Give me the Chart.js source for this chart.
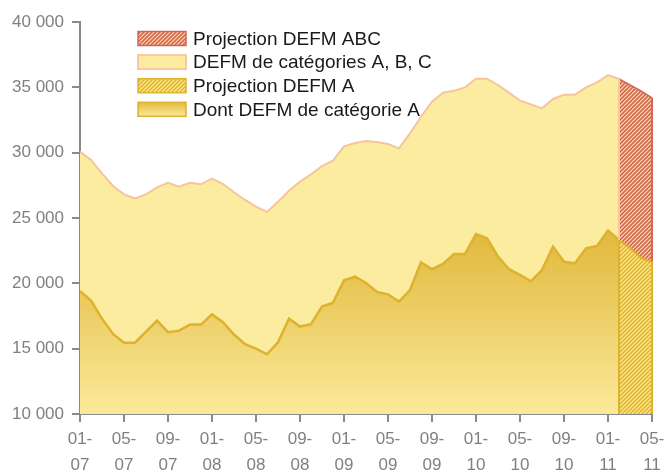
<!DOCTYPE html>
<html><head><meta charset="utf-8">
<script src="https://cdn.jsdelivr.net/npm/chart.js@4.4.1/dist/chart.umd.min.js"></script>
<style>html,body{margin:0;padding:0;background:#fff;} canvas{display:block;}</style>
</head><body>
<canvas id="c" width="664" height="473"></canvas>
<script>
const months = ["01-07","02-07","03-07","04-07","05-07","06-07","07-07","08-07","09-07","10-07","11-07","12-07",
"01-08","02-08","03-08","04-08","05-08","06-08","07-08","08-08","09-08","10-08","11-08","12-08",
"01-09","02-09","03-09","04-09","05-09","06-09","07-09","08-09","09-09","10-09","11-09","12-09",
"01-10","02-10","03-10","04-10","05-10","06-10","07-10","08-10","09-10","10-10","11-10","12-10",
"01-11","02-11","03-11","04-11","05-11"];

const defmABC = [30080,29440,28420,27450,26810,26500,26810,27350,27700,27400,27700,27580,
28010,27600,26970,26380,25870,25460,26250,27090,27780,28340,28980,29390,
30480,30740,30900,30820,30660,30330,31480,32750,33900,34590,34740,35000,
35660,35660,35180,34590,33980,33700,33390,34110,34440,34440,35000,35380,
35940,35640];

const defmA = [19420,18680,17300,16130,15460,15460,16310,17150,16260,16380,16840,16840,
17630,17020,16080,15340,15010,14570,15490,17300,16690,16870,18220,18520,
20230,20510,20030,19340,19160,18600,19490,21610,21080,21480,22250,22250,
23780,23450,22040,21080,20640,20160,21020,22810,21660,21530,22680,22860,
24030,23320];

const projMonths = ["02-11","03-11","04-11","05-11"];
const projABC = [35640,35180,34720,34200];
const projA = [23300,22700,21950,21650];

const legendLabels = ["Projection DEFM ABC","DEFM de catégories A, B, C","Projection DEFM A","Dont DEFM de catégorie A"];

const yMin = 10000, yMax = 40000, yStep = 5000;

const canvas = document.getElementById('c');
const mainCtx = canvas.getContext('2d');

function hatch(stripe, bg, w) {
  const t = document.createElement('canvas'); t.width = 4; t.height = 4;
  const g = t.getContext('2d');
  g.fillStyle = bg; g.fillRect(0,0,4,4);
  g.strokeStyle = stripe; g.lineWidth = w;
  g.beginPath();
  g.moveTo(-1,5); g.lineTo(5,-1);
  g.moveTo(-1,1); g.lineTo(1,-1);
  g.moveTo(3,5); g.lineTo(5,3);
  g.stroke();
  return mainCtx.createPattern(t,'repeat');
}
const redHatch = hatch('#d2645a', '#fbe59c', 1.6);
const goldHatch = hatch('#e0b635', '#fcee9f', 1.6);

const projStart = months.indexOf(projMonths[0]);
const pts = (arr, off) => arr.map((v,i)=>({x:i+off, y:v}));

function goldGradient(context) {
  const chart = context.chart; const ca = chart.chartArea;
  if (!ca) return '#e6c050';
  const g = chart.ctx.createLinearGradient(0, ca.top, 0, ca.bottom);
  g.addColorStop(0, '#d8a91c');
  g.addColorStop(0.5, '#dfb535');
  g.addColorStop(1, '#fbe99a');
  return g;
}

const edgePlugin = {
  id: 'edges',
  afterDatasetsDraw(chart) {
    const {ctx, scales:{x, y}, chartArea} = chart;
    const xl = x.getPixelForValue(projStart), xr = x.getPixelForValue(projStart + projA.length - 1);
    const last = projA.length - 1;
    ctx.save();
    ctx.lineWidth = 2;
    ctx.strokeStyle = '#f5c8a0';
    ctx.beginPath(); ctx.moveTo(xl, y.getPixelForValue(projABC[0])); ctx.lineTo(xl, y.getPixelForValue(projA[0])); ctx.stroke();
    ctx.strokeStyle = '#dcb22e';
    ctx.beginPath(); ctx.moveTo(xl, y.getPixelForValue(projA[0])); ctx.lineTo(xl, chartArea.bottom); ctx.stroke();
    ctx.strokeStyle = '#d5665c';
    ctx.beginPath(); ctx.moveTo(xr, y.getPixelForValue(projABC[last])); ctx.lineTo(xr, y.getPixelForValue(projA[last])); ctx.stroke();
    ctx.strokeStyle = '#dcb22e';
    ctx.beginPath(); ctx.moveTo(xr, y.getPixelForValue(projA[last])); ctx.lineTo(xr, chartArea.bottom); ctx.stroke();
    ctx.restore();
  }
};

const legendPlugin = {
  id: 'customLegend',
  afterDraw(chart) {
    const ctx = chart.ctx;
    const bx = 138, bw = 48, bh = 14, y0 = 38.5, dy = 23.6, tx = 193;
    const fills = [
      {fill: redHatch, stroke: '#d2645a'},
      {fill: '#fcec9f', stroke: '#f8c8a0'},
      {fill: goldHatch, stroke: '#dcb22e'},
      {fill: null, stroke: '#dcb22e'}
    ];
    ctx.save();
    legendLabels.forEach((lab, i) => {
      const cy = y0 + i*dy;
      const top = cy - bh/2;
      if (fills[i].fill) { ctx.fillStyle = fills[i].fill; }
      else {
        const g = ctx.createLinearGradient(0, top, 0, top+bh);
        g.addColorStop(0, '#e3bb3c'); g.addColorStop(1, '#fbe79a');
        ctx.fillStyle = g;
      }
      ctx.fillRect(bx, top, bw, bh);
      ctx.lineWidth = i === 1 ? 2 : 1.5; ctx.strokeStyle = fills[i].stroke;
      ctx.strokeRect(bx, top, bw, bh);
      ctx.fillStyle = '#1a1a1a';
      ctx.font = '19px "Liberation Sans", Arial, sans-serif';
      ctx.textBaseline = 'middle'; ctx.textAlign = 'left';
      ctx.fillText(lab, tx, cy + 1);
    });
    ctx.restore();
  }
};

const axisColor = '#8a8a8a';
const tickFont = {family: '"Liberation Sans", Arial, sans-serif', size: 17};

new Chart(canvas, {
  type: 'line',
  data: {
    datasets: [
      {label: legendLabels[2], data: pts(projA, projStart), borderColor: '#dcb22e', borderWidth: 2, backgroundColor: goldHatch, fill: 'start', pointRadius: 0, tension: 0},
      {label: legendLabels[0], data: pts(projABC, projStart), borderColor: '#d5665c', borderWidth: 1.5, backgroundColor: redHatch, fill: 0, pointRadius: 0, tension: 0},
      {label: legendLabels[3], data: pts(defmA, 0), borderColor: '#dcb22e', borderWidth: 2.5, backgroundColor: goldGradient, fill: 'start', pointRadius: 0, tension: 0},
      {label: legendLabels[1], data: pts(defmABC, 0), borderColor: '#f7c49c', borderWidth: 2, backgroundColor: '#fcec9f', fill: 'start', pointRadius: 0, tension: 0}
    ]
  },
  options: {
    responsive: false, animation: false, devicePixelRatio: 1,
    layout: {padding: {top: 22, right: 12, left: 0, bottom: 0}},
    plugins: {legend: {display: false}, tooltip: {enabled: false}},
    scales: {
      x: {
        type: 'linear', min: 0, max: months.length - 1,
        grid: {drawOnChartArea: false, drawTicks: true, tickLength: 8, color: axisColor, lineWidth: 2},
        border: {color: axisColor, width: 2},
        ticks: {
          stepSize: 4, autoSkip: false, maxRotation: 0, color: '#808080',
          font: {family: '"Liberation Sans", Arial, sans-serif', size: 17, lineHeight: 1.53}, padding: 4,
          callback: (v) => { const m = months[v]; if (!m) return null; const p = m.split('-'); return [p[0] + '-', p[1]]; }
        },
        afterFit: (s) => { s.height = 59; s.paddingLeft = 0; s.paddingRight = 0; }
      },
      y: {
        min: yMin, max: yMax,
        grid: {drawOnChartArea: false, drawTicks: true, tickLength: 8, color: axisColor, lineWidth: 2},
        border: {color: axisColor, width: 2},
        ticks: {
          stepSize: yStep, color: '#808080', font: tickFont, padding: 8,
          callback: (v) => String(v).replace(/\B(?=(\d{3})+(?!\d))/g, ' ')
        },
        afterFit: (s) => { s.width = 80; s.paddingTop = 0; s.paddingBottom = 0; }
      }
    }
  },
  plugins: [edgePlugin, legendPlugin]
});
</script>
</body></html>
